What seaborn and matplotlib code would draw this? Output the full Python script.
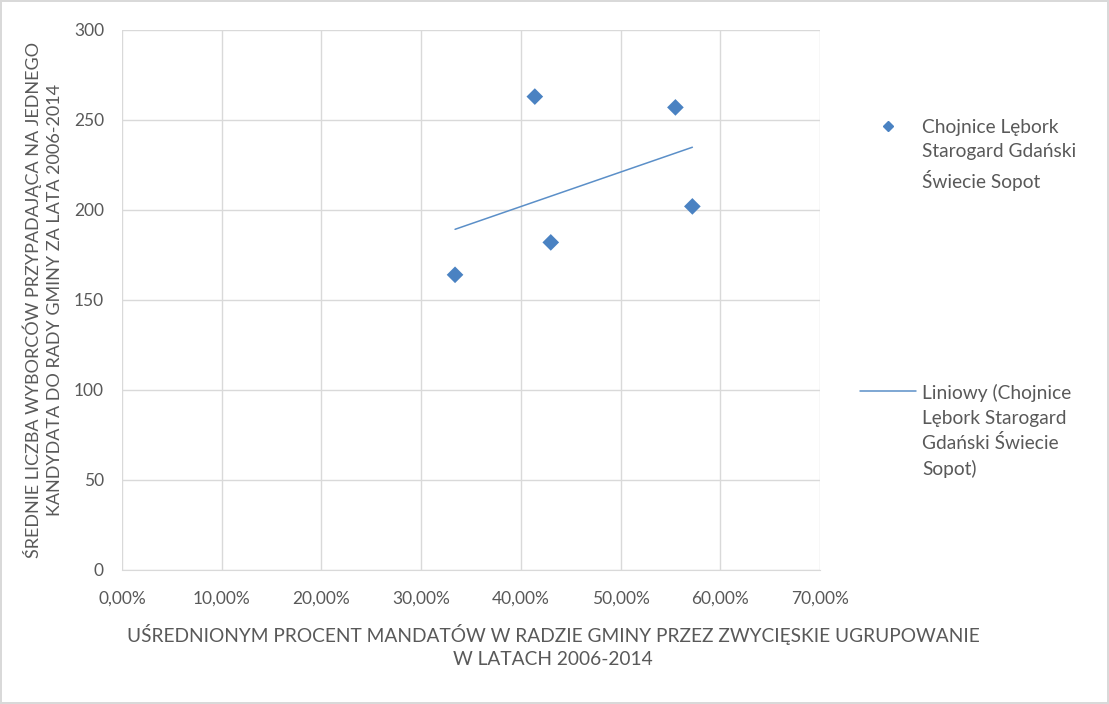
import matplotlib
matplotlib.use("Agg")
import matplotlib.pyplot as plt
import pandas as pd
import seaborn as sns
from matplotlib.lines import Line2D
from matplotlib.ticker import FuncFormatter

# share of council seats held by the winning group (fraction) and voters per candidate
seat_share = [0.334, 0.414, 0.430, 0.555, 0.572]
voters_per_candidate = [164, 263, 182, 257, 202]

x_ticks = [0.0, 0.1, 0.2, 0.3, 0.4, 0.5, 0.6, 0.7]
y_ticks = [0, 50, 100, 150, 200, 250, 300]

series_label = "Chojnice Lębork\nStarogard Gdański\nŚwiecie Sopot"
trend_label = "Liniowy (Chojnice\nLębork Starogard\nGdański Świecie\nSopot)"
x_label = "UŚREDNIONYM PROCENT MANDATÓW W RADZIE GMINY PRZEZ ZWYCIĘSKIE UGRUPOWANIE\nW LATACH 2006-2014"
y_label = "ŚREDNIE LICZBA WYBORCÓW PRZYPADAJĄCA NA JEDNEGO\nKANDYDATA DO RADY GMINY ZA LATA 2006-2014"

BLUE = "#4a82c2"
LINE_BLUE = "#5b8fc8"
TEXT = "#595959"
GRID = "#d9d9d9"
FS = 13.8

df = pd.DataFrame({"share": seat_share, "voters": voters_per_candidate})

sns.set_style("white")
plt.rcParams["font.family"] = ["Lato", "DejaVu Sans"]

fig = plt.figure(figsize=(11.09, 7.04), dpi=100)
fig.patch.set_edgecolor("#d9d9d9")
fig.patch.set_linewidth(1.5)
ax = fig.add_axes([122 / 1109, 1 - 570 / 704, 698 / 1109, 540 / 704])

sns.regplot(
    data=df, x="share", y="voters", ax=ax, ci=None, marker="D",
    scatter_kws={"s": 72, "color": BLUE, "alpha": 1, "edgecolor": "none", "zorder": 3},
    line_kws={"color": LINE_BLUE, "linewidth": 1.1, "zorder": 2},
)

ax.set_xlim(0, 0.7)
ax.set_ylim(0, 300)
ax.set_xticks(x_ticks)
ax.set_yticks(y_ticks)
ax.xaxis.set_major_formatter(FuncFormatter(lambda v, _: f"{v * 100:.2f}%".replace(".", ",")))
ax.grid(True, color=GRID, linewidth=1)
ax.set_axisbelow(True)
for side in ["top", "right", "left"]:
    ax.spines[side].set_visible(False)
ax.spines["bottom"].set_color(GRID)
ax.tick_params(length=0, labelsize=12.5, labelcolor=TEXT)
ax.tick_params(axis="x", pad=15)
ax.tick_params(axis="y", pad=13)

ax.set_xlabel(x_label, fontsize=FS, color=TEXT, linespacing=1.45)
ax.xaxis.set_label_coords((553 - 122) / 698, -0.1)
ax.set_ylabel(y_label, fontsize=13, color=TEXT, linespacing=1.45)
ax.yaxis.set_label_coords(-0.084, 0.5)

handles = [
    Line2D([], [], marker="D", linestyle="none", color=BLUE, markersize=5.5),
    Line2D([], [], color=LINE_BLUE, linewidth=1.1),
]
leg = fig.legend(
    handles, [series_label, trend_label],
    loc="upper left", bbox_to_anchor=(860 / 1109, 1 - 119 / 704),
    frameon=False, fontsize=FS, labelcolor=TEXT, labelspacing=10.1,
    handlelength=2.9, handletextpad=0.35, borderpad=0, borderaxespad=0,
)
for t in leg.get_texts():
    t.set_linespacing(1.52)
# put each key next to the first line of its label
for col in leg._legend_handle_box.get_children():
    for row in col.get_children():
        row.align = "top"

fig.savefig("out.png", dpi=100)
